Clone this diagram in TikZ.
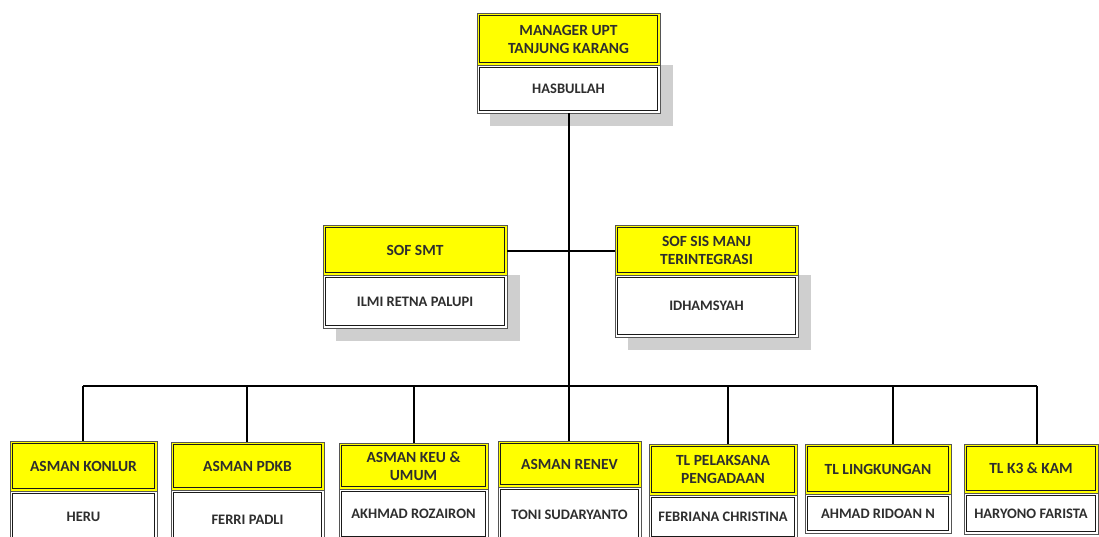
\documentclass[tikz,border=0pt]{standalone}
\usepackage{fontspec}
\setmainfont{Carlito}
\definecolor{boxyellow}{HTML}{FFFF00}
\definecolor{txtgray}{HTML}{2E2E2E}
\definecolor{shadowgray}{HTML}{CFCFCF}
\definecolor{outerline}{HTML}{555555}
\tikzset{
  cell/.style={draw=outerline, line width=0.9pt,
    inner sep=0pt, outer sep=0pt, anchor=north west, align=center,
    text=txtgray},
  headcell/.style={cell, fill=boxyellow, font=\fontsize{15.5}{18}\selectfont\bfseries},
  namecell/.style={cell, fill=white, font=\fontsize{14.5}{17}\selectfont\bfseries},
  innerline/.style={draw=black!90, line width=0.9pt},
  conn/.style={draw=black, line width=1.5pt}
}
% #1 name, #2 x0, #3 x1, #4 ytop, #5 ymid, #6 ybot, #7 head, #8 name text, #9 shadow(1/0)
\newcommand{\orgbox}[9]{%
  \ifnum#9=1
    \fill[shadowgray] (#2+13,#5) rectangle (#3+13,#6+13);
  \fi
  \node[headcell, minimum width={#3pt-#2pt}, minimum height={#5pt-#4pt}] (#1h) at (#2,#4) {#7};
  \node[namecell, minimum width={#3pt-#2pt}, minimum height={#6pt-#5pt}] (#1n) at (#2,#5) {#8};
  \draw[innerline] ([shift={(2.2,2.2)}]#1h.north west) rectangle ([shift={(-2.2,-2.2)}]#1h.south east);
  \draw[innerline] ([shift={(2.2,2.2)}]#1n.north west) rectangle ([shift={(-2.2,-2.2)}]#1n.south east);
}
\begin{document}
\begin{tikzpicture}[x=1pt,y=-1pt]
\clip (0,0) rectangle (1099,537);
\fill[white] (0,0) rectangle (1099,537);
\orgbox{mgr}{477}{660}{13}{65}{113}{MANAGER UPT\\TANJUNG KARANG}{HASBULLAH}{1}
\orgbox{smt}{323}{507}{225}{275}{328}{SOF SMT}{ILMI RETNA PALUPI}{1}
\orgbox{sis}{615}{798}{225}{275}{337}{SOF SIS MANJ\\TERINTEGRASI}{IDHAMSYAH}{1}
\orgbox{kon}{10}{157}{441}{491}{543}{ASMAN KONLUR}{HERU}{0}
\orgbox{pdkb}{171}{324}{442}{490}{550}{ASMAN PDKB}{FERRI PADLI}{0}
\orgbox{keu}{339}{488}{443}{489}{539}{ASMAN KEU \&\\UMUM}{AKHMAD ROZAIRON}{0}
\orgbox{ren}{498}{641}{441}{487}{543}{ASMAN RENEV}{TONI SUDARYANTO}{0}
\orgbox{pel}{649}{797}{444}{495}{539}{TL PELAKSANA\\PENGADAAN}{FEBRIANA CHRISTINA}{0}
\orgbox{lin}{805}{951}{444}{494}{533}{TL LINGKUNGAN}{AHMAD RIDOAN N}{0}
\orgbox{kkk}{964}{1098}{444}{493}{534}{TL K3 \& KAM}{HARYONO FARISTA}{0}
% bus coordinates
\coordinate (busL) at (83,386);
\coordinate (busR) at (1037,386);
\coordinate (busC) at (569,386);
\coordinate (midC) at (569,251);
% connectors
\draw[conn] (mgrn.south -| midC) -- (midC) -- (busC) -- (busC |- renh.north);
\draw[conn] (smth.east |- midC) -- (sish.west |- midC);
\draw[conn] (busL) -- (busR);
\draw[conn] (busL) -- (busL |- konh.north);
\draw[conn] (247,386) -- (247,386 |- pdkbh.north);
\draw[conn] (414,386) -- (414,386 |- keuh.north);
\draw[conn] (728,386) -- (728,386 |- pelh.north);
\draw[conn] (893,386) -- (893,386 |- linh.north);
\draw[conn] (busR) -- (busR |- kkkh.north);
\end{tikzpicture}
\end{document}
